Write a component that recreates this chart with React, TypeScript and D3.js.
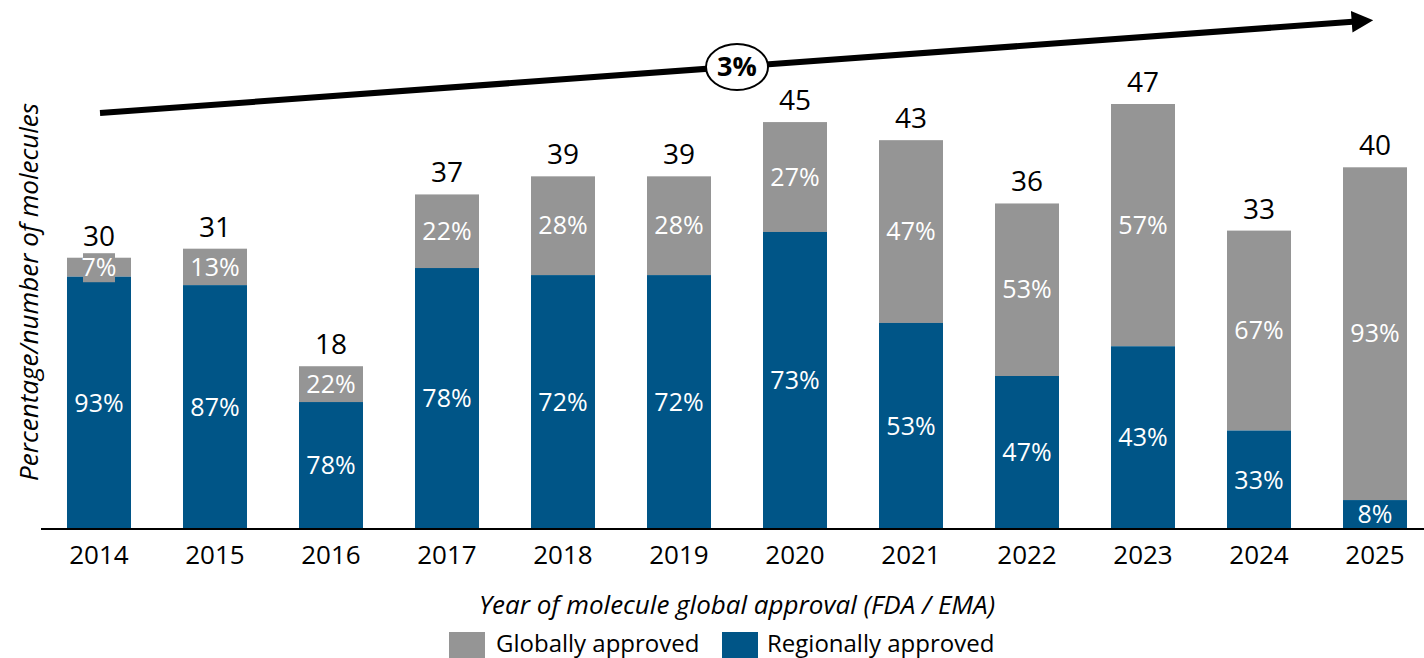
import React from "react";
import * as d3 from "d3";

const years = ["2014","2015","2016","2017","2018","2019","2020","2021","2022","2023","2024","2025"];
const totals = [30,31,18,37,39,39,45,43,36,47,33,40];
const regionalPct = [93,87,78,78,72,72,73,53,47,43,33,8];
const globalPct = [7,13,22,22,28,28,27,47,53,57,67,93];
const legendItems = ["Globally approved","Regionally approved"];
const growthLabel = "3%";

const W = 1424, H = 658;
const GRAY = "#959595";
const BLUE = "#005587";
const FONT = "'Open Sans', 'Noto Sans', sans-serif";

export default function App() {
  const xb = d3.scaleBand().domain(years).range([41, 41 + 116 * 12]).paddingInner(0.4483).paddingOuter(0.2241);
  const y = d3.scaleLinear().domain([0, 47]).range([529, 104]);
  const bw = xb.bandwidth();
  return (
    <svg width={W} height={H} style={{ position: "absolute", left: 0, top: 0, fontFamily: FONT }}>
      <defs>
        <marker id="ah" viewBox="0 0 10 10" refX="2" refY="5" markerWidth="3.6" markerHeight="3.6" orient="auto" markerUnits="strokeWidth">
          <path d="M0,0 L10,5 L0,10 Z" fill="#000" />
        </marker>
      </defs>
      {years.map((yr, i) => {
        const x0 = xb(yr)!;
        const cx = x0 + bw / 2;
        const tot = totals[i];
        const regVal = tot * regionalPct[i] / 100;
        const yTop = y(tot);
        const yReg = y(regVal);
        const gMid = (yTop + yReg) / 2;
        const rMid = (yReg + y(0)) / 2;
        const gText = `${globalPct[i]}%`;
        const gw = gText.length * 14 + 4;
        return (
          <g key={yr}>
            <rect x={x0} y={yTop} width={bw} height={yReg - yTop} fill={GRAY} />
            <rect x={x0} y={yReg} width={bw} height={y(0) - yReg} fill={BLUE} />
            {yReg - yTop < 30 && (
              <rect x={cx - gw / 2} y={gMid - 14} width={gw} height={29} fill={GRAY} />
            )}
            <text x={cx} y={gMid} dy="0.35em" textAnchor="middle" fill="#fff" fontSize={25}>{gText}</text>
            <text x={cx} y={rMid} dy="0.35em" textAnchor="middle" fill="#fff" fontSize={25}>{`${regionalPct[i]}%`}</text>
            <text x={cx} y={yTop - 12} textAnchor="middle" fill="#000" fontSize={28}>{tot}</text>
            <text x={cx} y={555} dy="0.35em" textAnchor="middle" fill="#000" fontSize={26}>{yr}</text>
          </g>
        );
      })}
      <line x1={41} x2={W} y1={529} y2={529} stroke="#000" strokeWidth={2} />
      <line x1={100} y1={113} x2={1356} y2={21.5} stroke="#000" strokeWidth={6} markerEnd="url(#ah)" />
      <ellipse cx={737} cy={67} rx={31} ry={23} fill="#fff" stroke="#000" strokeWidth={2} />
      <text x={737} y={67} dy="0.35em" textAnchor="middle" fontSize={27} fontWeight="bold" fill="#000">{growthLabel}</text>
      <text transform="translate(29,292) rotate(-90)" textAnchor="middle" dy="0.35em" fontSize={26} fontStyle="italic" fill="#000">Percentage/number of molecules</text>
      <text x={737} y={605} dy="0.35em" textAnchor="middle" fontSize={26} fontStyle="italic" fill="#000">Year of molecule global approval (FDA / EMA)</text>
      <rect x={449} y={632} width={36} height={26} fill={GRAY} />
      <text x={496} y={644} dy="0.35em" fontSize={24} fill="#000">{legendItems[0]}</text>
      <rect x={722} y={632} width={36} height={26} fill={BLUE} />
      <text x={767} y={644} dy="0.35em" fontSize={24} fill="#000">{legendItems[1]}</text>
    </svg>
  );
}
